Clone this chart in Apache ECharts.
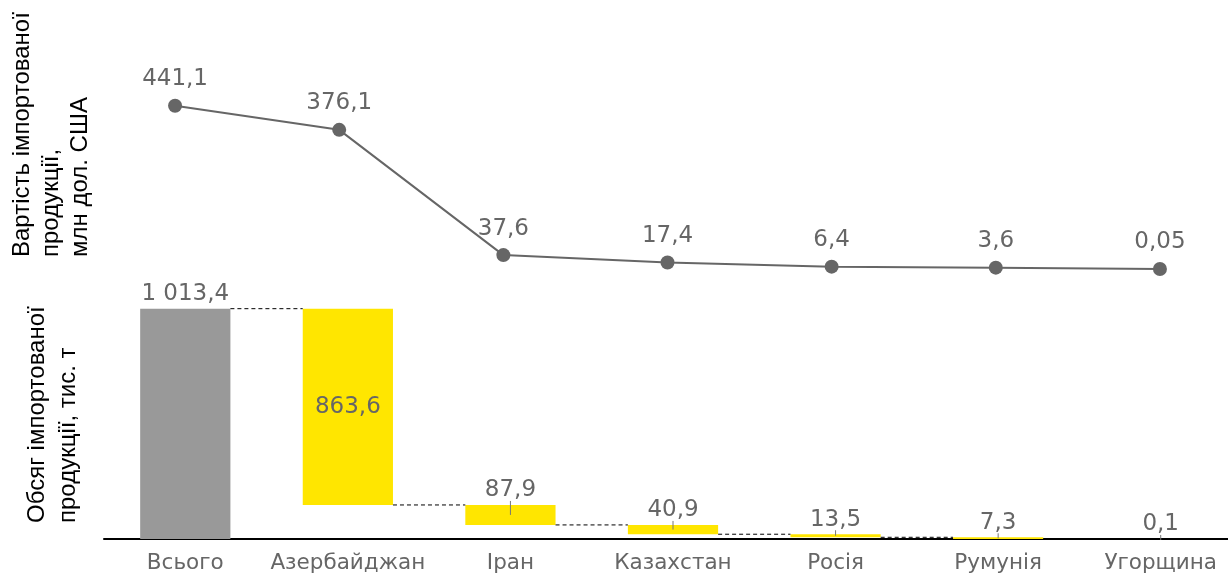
<!DOCTYPE html>
<html><head><meta charset="utf-8">
<script src="https://cdn.jsdelivr.net/npm/echarts@6/dist/echarts.min.js"></script>
<style>html,body{margin:0;padding:0;background:#fff;overflow:hidden;width:1228px;height:575px}#c{width:1242px;height:575px}</style>
</head><body><div id="c"></div>
<script>
const categories = ['Всього','Азербайджан','Іран','Казахстан','Росія','Румунія','Угорщина'];
const costValues = [441.1, 376.1, 37.6, 17.4, 6.4, 3.6, 0.05];      // млн дол. США
const volumeValues = [1013.4, 863.6, 87.9, 40.9, 13.5, 7.3, 0.1];   // тис. т

function fmt(v){
  let s = String(v).replace('.', ',');
  let parts = s.split(',');
  parts[0] = parts[0].replace(/\B(?=(\d{3})+(?!\d))/g, ' ');
  return parts.join(',');
}
// waterfall bases
const bases = [];
let level = volumeValues[0];
bases.push(0);
for (let i = 1; i < volumeValues.length; i++) { level -= volumeValues[i]; bases.push(+level.toFixed(2)); }
const tops = volumeValues.map((v,i)=> bases[i] + v);

const FONT = 'DejaVu Sans';
const LBL = '#666666';
const chart = echarts.init(document.getElementById('c'));
const barRatio = 0.555;

chart.setOption({
  animation: false,
  grid: [
    {left: 93, right: 0, top: 84, height: 185},
    {left: 104, right: 0, top: 289, height: 250}
  ],
  xAxis: [
    {gridIndex: 0, type: 'category', data: categories, show: false},
    {gridIndex: 1, type: 'category', data: categories,
     axisLine: {lineStyle: {color: '#000', width: 2}}, axisTick: {show: false},
     axisLabel: {interval: 0, color: LBL, fontFamily: FONT, fontSize: 21.5, margin: 13}}
  ],
  yAxis: [
    {gridIndex: 0, type: 'value', min: 0, max: 500, show: false},
    {gridIndex: 1, type: 'value', min: 0, max: 1100, show: false}
  ],
  graphic: [
    {type: 'text', x: 51, y: 257, rotation: Math.PI/2,
     style: {text: 'Вартість імпортованої\nпродукції,\nмлн дол. США', fill: '#000',
       font: '24px "Liberation Sans"', lineHeight: 29, align: 'left', verticalAlign: 'middle'}},
    {type: 'text', x: 53, y: 523, rotation: Math.PI/2,
     style: {text: 'Обсяг імпортованої\nпродукції, тис. т', fill: '#000',
       font: '24px "Liberation Sans"', lineHeight: 31, align: 'left', verticalAlign: 'middle'}}
  ],
  series: [
    {type: 'line', xAxisIndex: 0, yAxisIndex: 0, data: costValues,
     symbol: 'circle', symbolSize: 14,
     lineStyle: {color: '#666', width: 2}, itemStyle: {color: '#666'},
     label: {show: true, position: 'top', distance: 8, color: LBL, fontFamily: FONT, fontSize: 23,
       formatter: p => fmt(p.value)}},
    {type: 'bar', xAxisIndex: 1, yAxisIndex: 1, stack: 'w', data: bases,
     barWidth: (barRatio*100)+'%', itemStyle: {color: 'transparent'}, silent: true},
    {type: 'bar', xAxisIndex: 1, yAxisIndex: 1, stack: 'w', barWidth: (barRatio*100)+'%',
     data: volumeValues.map((v,i)=>({
       value: v,
       itemStyle: {color: i===0 ? '#999999' : '#FFE600'},
       label: {position: i===1 ? 'inside' : 'top'}
     })),
     label: {show: true, distance: 3, color: LBL, fontFamily: FONT, fontSize: 23,
       formatter: p => fmt(p.value)}},
    {type: 'custom', xAxisIndex: 1, yAxisIndex: 1, z: 5, silent: true,
     data: categories.map((c,i)=>[i, tops[i], bases[i]]),
     renderItem: function(params, api){
       const i = api.value(0);
       const bw = api.size([1,0])[0] * barRatio;
       const children = [];
       if (i < categories.length - 1) {
         const lv = tops[i+1];
         const p1 = api.coord([i, lv]);
         const p2 = api.coord([i+1, lv]);
         children.push({type: 'line', shape: {x1: p1[0] + bw/2, y1: p1[1], x2: p2[0] - bw/2, y2: p2[1]},
           style: {stroke: '#000', lineWidth: 1, lineDash: [4,3]}});
       }
       if (i >= 2) {
         const pt = api.coord([i, api.value(1)]);
         const pm = api.coord([i, (api.value(1) + api.value(2))/2]);
         children.push({type: 'line', shape: {x1: pt[0], y1: pt[1] - 4, x2: pm[0], y2: Math.max(pm[1], pt[1]+1)},
           style: {stroke: '#777', lineWidth: 1}});
       }
       return {type: 'group', children};
     }}
  ]
});
</script></body></html>
